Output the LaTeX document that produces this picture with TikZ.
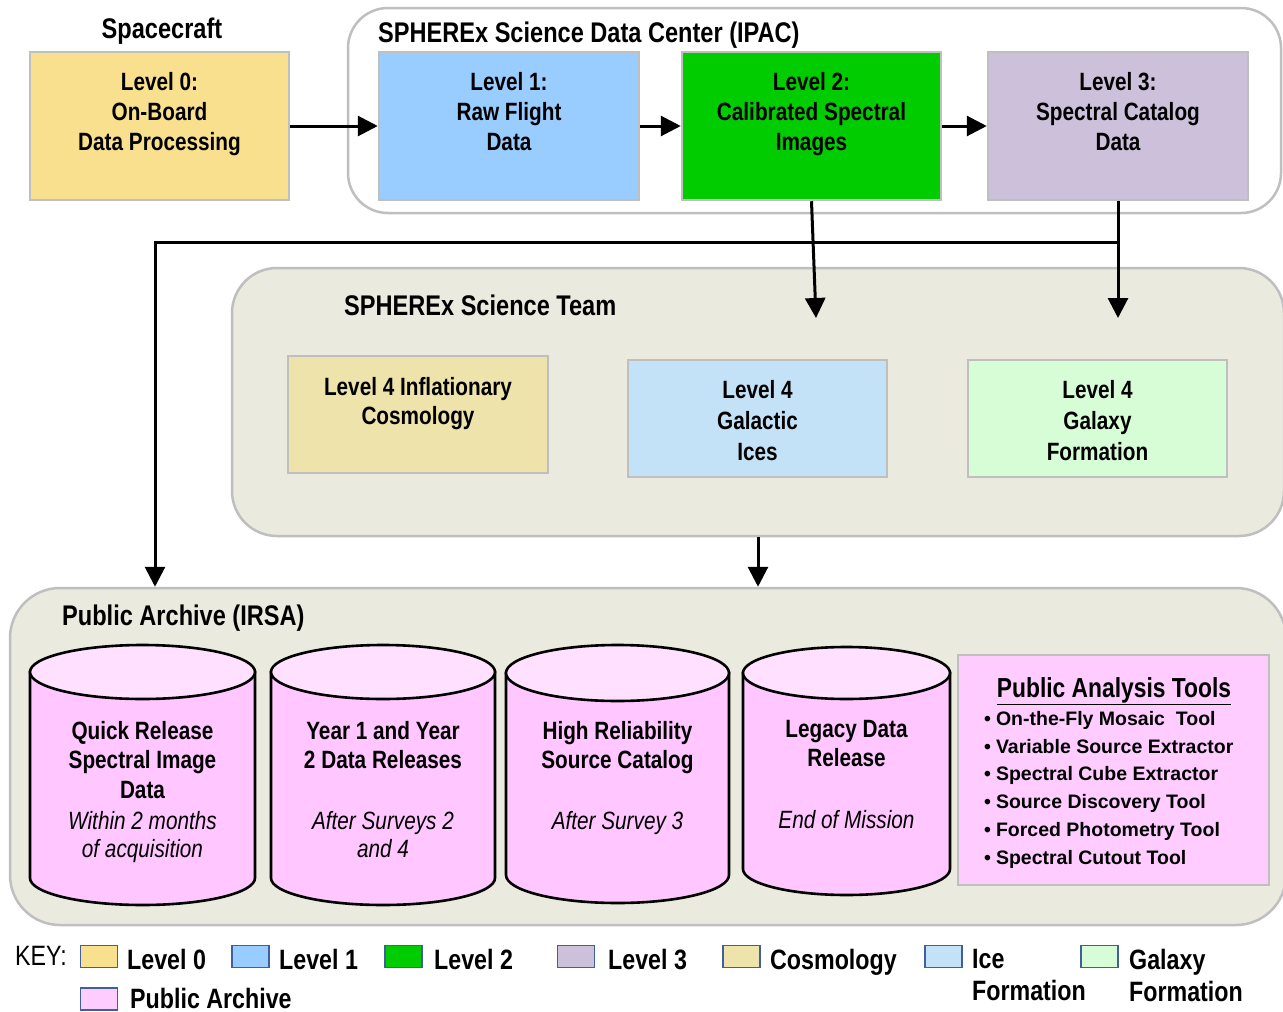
\documentclass[tikz,border=0pt]{standalone}
\usepackage{fontspec}
\setmainfont{Liberation Sans}[FakeStretch=0.83]
\newfontfamily\widefont{Liberation Sans}
\usetikzlibrary{arrows.meta}
\definecolor{boxgray}{HTML}{BFBFBF}
\definecolor{czero}{HTML}{F9E08F}
\definecolor{cone}{HTML}{99CCFF}
\definecolor{ctwo}{HTML}{00CC00}
\definecolor{cthree}{HTML}{CCC0DA}
\definecolor{ccosmo}{HTML}{EEE3AA}
\definecolor{cice}{HTML}{C4E2F7}
\definecolor{cgal}{HTML}{D6FDD6}
\definecolor{cbg}{HTML}{EAEADE}
\definecolor{cylbody}{HTML}{FFC6FF}
\definecolor{cyltop}{HTML}{FFE1FF}
\definecolor{ctools}{HTML}{FFCCFF}
\definecolor{keyblue}{HTML}{3F5F9F}
\newcommand{\cylshape}[5]{%
  \filldraw[cylline, fill=cylbody] (#1,#3) -- (#1,#4) arc[start angle=180, end angle=0, x radius={(#2-#1)/2}, y radius=#5] -- (#2,#3) -- cycle;
  \filldraw[cylline, fill=cyltop] ({(#1+#2)/2},#3) ellipse[x radius={(#2-#1)/2}, y radius=#5];
}
\begin{document}
\begin{tikzpicture}[x=1pt,y=-1pt,
  container/.style={draw=boxgray, line width=2.5pt, inner sep=0pt},
  lvbox/.style={draw=boxgray, line width=2.5pt, inner sep=0pt},
  boxtext/.style={anchor=north, inner sep=0pt, align=center, font=\bfseries\fontsize{25}{30}\selectfont},
  cyltext/.style={anchor=north, inner sep=0pt, align=center, font=\bfseries\fontsize{25}{29.5}\selectfont},
  cylnote/.style={anchor=north, inner sep=0pt, align=center, font=\itshape\fontsize{25}{28}\selectfont},
  title/.style={inner sep=0pt, font=\bfseries\fontsize{28.4}{34}\selectfont},
  cylline/.style={draw=black, line width=2.6pt},
  arr/.style={line width=3pt, -{Triangle[length=20pt,width=20pt]}},
  keysw/.style={draw=keyblue, line width=1.8pt, minimum width=37pt, minimum height=22pt, inner sep=0pt},
  keytext/.style={inner sep=0pt, font=\bfseries\fontsize{28}{32}\selectfont}
]
\useasboundingbox (0,0) rectangle (1283,1012);
\fill[white] (0,0) rectangle (1283,1012);

% containers
\node[container, fill=white, rounded corners=40pt, minimum width=933pt, minimum height=205pt] (ipac) at (814.5,110.5) {};
\node[container, fill=cbg, rounded corners=45pt, minimum width=1052pt, minimum height=268pt] (team) at (758,402) {};
\node[container, fill=cbg, rounded corners=50pt, minimum width=1276pt, minimum height=337pt] (archive) at (648,756.5) {};

% titles
\node[title, anchor=base] (sctitle) at (162,38) {Spacecraft};
\node[title, anchor=base west] (ipactitle) at (378,42) {SPHEREx Science Data Center (IPAC)};
\node[title, anchor=base west] (teamtitle) at (344,315) {SPHEREx Science Team};
\node[title, anchor=base west] (archtitle) at (62,625) {Public Archive (IRSA)};

% level boxes
\node[lvbox, fill=czero, minimum width=259pt, minimum height=148pt] (l0) at (159.5,126) {};
\node[lvbox, fill=cone, minimum width=260pt, minimum height=148pt] (l1) at (509,126) {};
\node[lvbox, fill=ctwo, minimum width=259pt, minimum height=148pt] (l2) at (811.5,126) {};
\node[lvbox, fill=cthree, minimum width=260pt, minimum height=148pt] (l3) at (1118,126) {};
\node[boxtext] (l0t) at (159.5,72) {Level 0:\\On-Board\\Data Processing};
\node[boxtext] (l1t) at (509,72) {Level 1:\\Raw Flight\\Data};
\node[boxtext] (l2t) at (811.5,72) {Level 2:\\Calibrated Spectral\\Images};
\node[boxtext] (l3t) at (1118,72) {Level 3:\\Spectral Catalog\\Data};

% level 4 boxes
\node[lvbox, fill=ccosmo, minimum width=260pt, minimum height=117pt] (cosmo) at (418,414.5) {};
\node[lvbox, fill=cice, minimum width=259pt, minimum height=117pt] (ices) at (757.5,418.5) {};
\node[lvbox, fill=cgal, minimum width=259pt, minimum height=117pt] (gal) at (1097.5,418.5) {};
\node[boxtext, font=\bfseries\fontsize{25}{29}\selectfont] (cosmot) at (418,377) {Level 4 Inflationary\\Cosmology};
\node[boxtext, font=\bfseries\fontsize{25}{31}\selectfont] (icest) at (757.5,380) {Level 4\\Galactic\\Ices};
\node[boxtext, font=\bfseries\fontsize{25}{31}\selectfont] (galt) at (1097.5,380) {Level 4\\Galaxy\\Formation};

% connectors
\draw[arr] (l0) -- (l1);
\draw[arr] (l1) -- (l2);
\draw[arr] (l2) -- (l3);
\coordinate (t2) at (816,318);
\coordinate (lb) at (155,242);
\draw[arr] (l2.south) -- (t2);
\draw[arr] (l3.south) -- (l3.south |- t2);
\draw[arr] (l3.south |- lb) -- (lb) -- (lb |- archive.north);
\draw[arr] (team.south) -- (archive.north -| team.south);

% cylinders
\cylshape{30}{255}{672}{878}{27}
\cylshape{271}{495}{672}{878}{27}
\cylshape{506}{729}{673}{875}{28}
\cylshape{743}{950}{673}{869}{26}
\node[cyltext] (c1t) at (142.5,721) {Quick Release\\Spectral Image\\Data};
\node[cylnote] (c1n) at (142.5,811) {Within 2 months\\of acquisition};
\node[cyltext] (c2t) at (383,721) {Year 1 and Year\\2 Data Releases};
\node[cylnote] (c2n) at (383,811) {After Surveys 2\\and 4};
\node[cyltext] (c3t) at (617.5,721) {High Reliability\\Source Catalog};
\node[cylnote] (c3n) at (617.5,811) {After Survey 3};
\node[cyltext] (c4t) at (846.5,720) {Legacy Data\\Release};
\node[cylnote] (c4n) at (846.5,810) {End of Mission};

% tools
\node[lvbox, fill=ctools, minimum width=311pt, minimum height=230pt] (tools) at (1113.5,770) {};
\node[inner sep=0pt, anchor=base, font=\bfseries\fontsize{27.5}{33}\selectfont] (toolhead) at (1114,697) {\underline{Public Analysis Tools}};
\node[inner sep=0pt, anchor=north west, align=left, font=\widefont\bfseries\fontsize{19.5}{27.8}\selectfont] (toollist) at (984,711) {%
•\hspace{5pt}On-the-Fly Mosaic\ \ Tool\\
•\hspace{5pt}Variable Source Extractor\\
•\hspace{5pt}Spectral Cube Extractor\\
•\hspace{5pt}Source Discovery Tool\\
•\hspace{5pt}Forced Photometry Tool\\
•\hspace{5pt}Spectral Cutout Tool};

% key
\node[inner sep=0pt, anchor=base west, font=\fontsize{28}{32}\selectfont] (keylab) at (15,965) {KEY:};
\node[keysw, fill=czero] (k0) at (99,956.5) {};
\node[keysw, fill=cone] (k1) at (250.5,956.5) {};
\node[keysw, fill=ctwo] (k2) at (403.5,956.5) {};
\node[keysw, fill=cthree] (k3) at (576,956.5) {};
\node[keysw, fill=ccosmo] (kc) at (741.5,956.5) {};
\node[keysw, fill=cice] (ki) at (943.5,956.5) {};
\node[keysw, fill=cgal] (kg) at (1099.5,956.5) {};
\node[keysw, fill=ctools] (kp) at (99,999) {};
\node[keytext, anchor=base west] (k0t) at (127,969) {Level 0};
\node[keytext, anchor=base west] (k1t) at (279,969) {Level 1};
\node[keytext, anchor=base west] (k2t) at (434,969) {Level 2};
\node[keytext, anchor=base west] (k3t) at (608,969) {Level 3};
\node[keytext, anchor=base west] (kct) at (770,969) {Cosmology};
\node[keytext, anchor=north west, align=left] (kit) at (972,949) {Ice\\Formation};
\node[keytext, anchor=north west, align=left] (kgt) at (1129,949) {Galaxy\\Formation};
\node[keytext, anchor=base west] (kpt) at (130,1008) {Public Archive};
\end{tikzpicture}
\end{document}
